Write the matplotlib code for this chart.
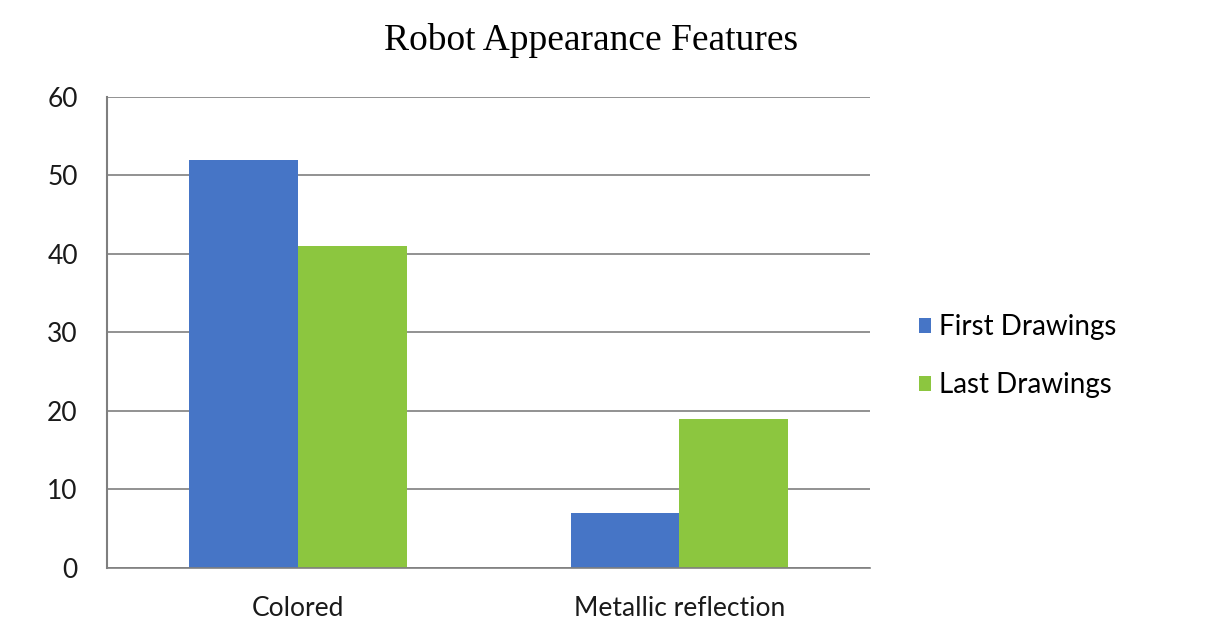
import matplotlib.pyplot as plt
import numpy as np

categories = ["Colored", "Metallic reflection"]
first_drawings = [52, 7]
last_drawings = [41, 19]
y_ticks = [0, 10, 20, 30, 40, 50, 60]

blue = "#4675C6"
green = "#8CC63F"

fig = plt.figure(figsize=(12.19, 6.27), dpi=100)
ax = fig.add_axes([0.0878, 0.0941, 0.626, 0.7512])

x = np.arange(len(categories))
w = 0.285
ax.bar(x - w / 2, first_drawings, w, color=blue, label="First Drawings", zorder=2)
ax.bar(x + w / 2, last_drawings, w, color=green, label="Last Drawings", zorder=2)

ax.set_xlim(-0.5, 1.5)
ax.set_ylim(0, 60)
ax.set_yticks(y_ticks)
ax.set_xticks(x)
ax.set_xticklabels(categories)
ax.yaxis.grid(True, color="#7f7f7f", linewidth=1.2, zorder=1)
ax.tick_params(length=0, labelsize=19, colors="#1a1a1a")
ax.tick_params(axis="y", pad=21)
ax.tick_params(axis="x", pad=20)
for lbl in ax.get_xticklabels() + ax.get_yticklabels():
    lbl.set_family("Lato")

for side in ["top", "right"]:
    ax.spines[side].set_visible(False)
ax.spines["left"].set_color("#7f7f7f")
ax.spines["left"].set_linewidth(1.5)
ax.spines["bottom"].set_color("#7f7f7f")
ax.spines["bottom"].set_linewidth(1.2)

fig.text(0.485, 0.935, "Robot Appearance Features", ha="center", va="center",
         family="Liberation Serif", fontsize=27)

fig.legend(loc="center left", bbox_to_anchor=(0.733, 0.432), frameon=False,
           prop={"family": "Lato", "size": 20}, handlelength=0.45, handleheight=0.45,
           handletextpad=0.3, labelspacing=1.15)

fig.savefig("out.png", dpi=100)
